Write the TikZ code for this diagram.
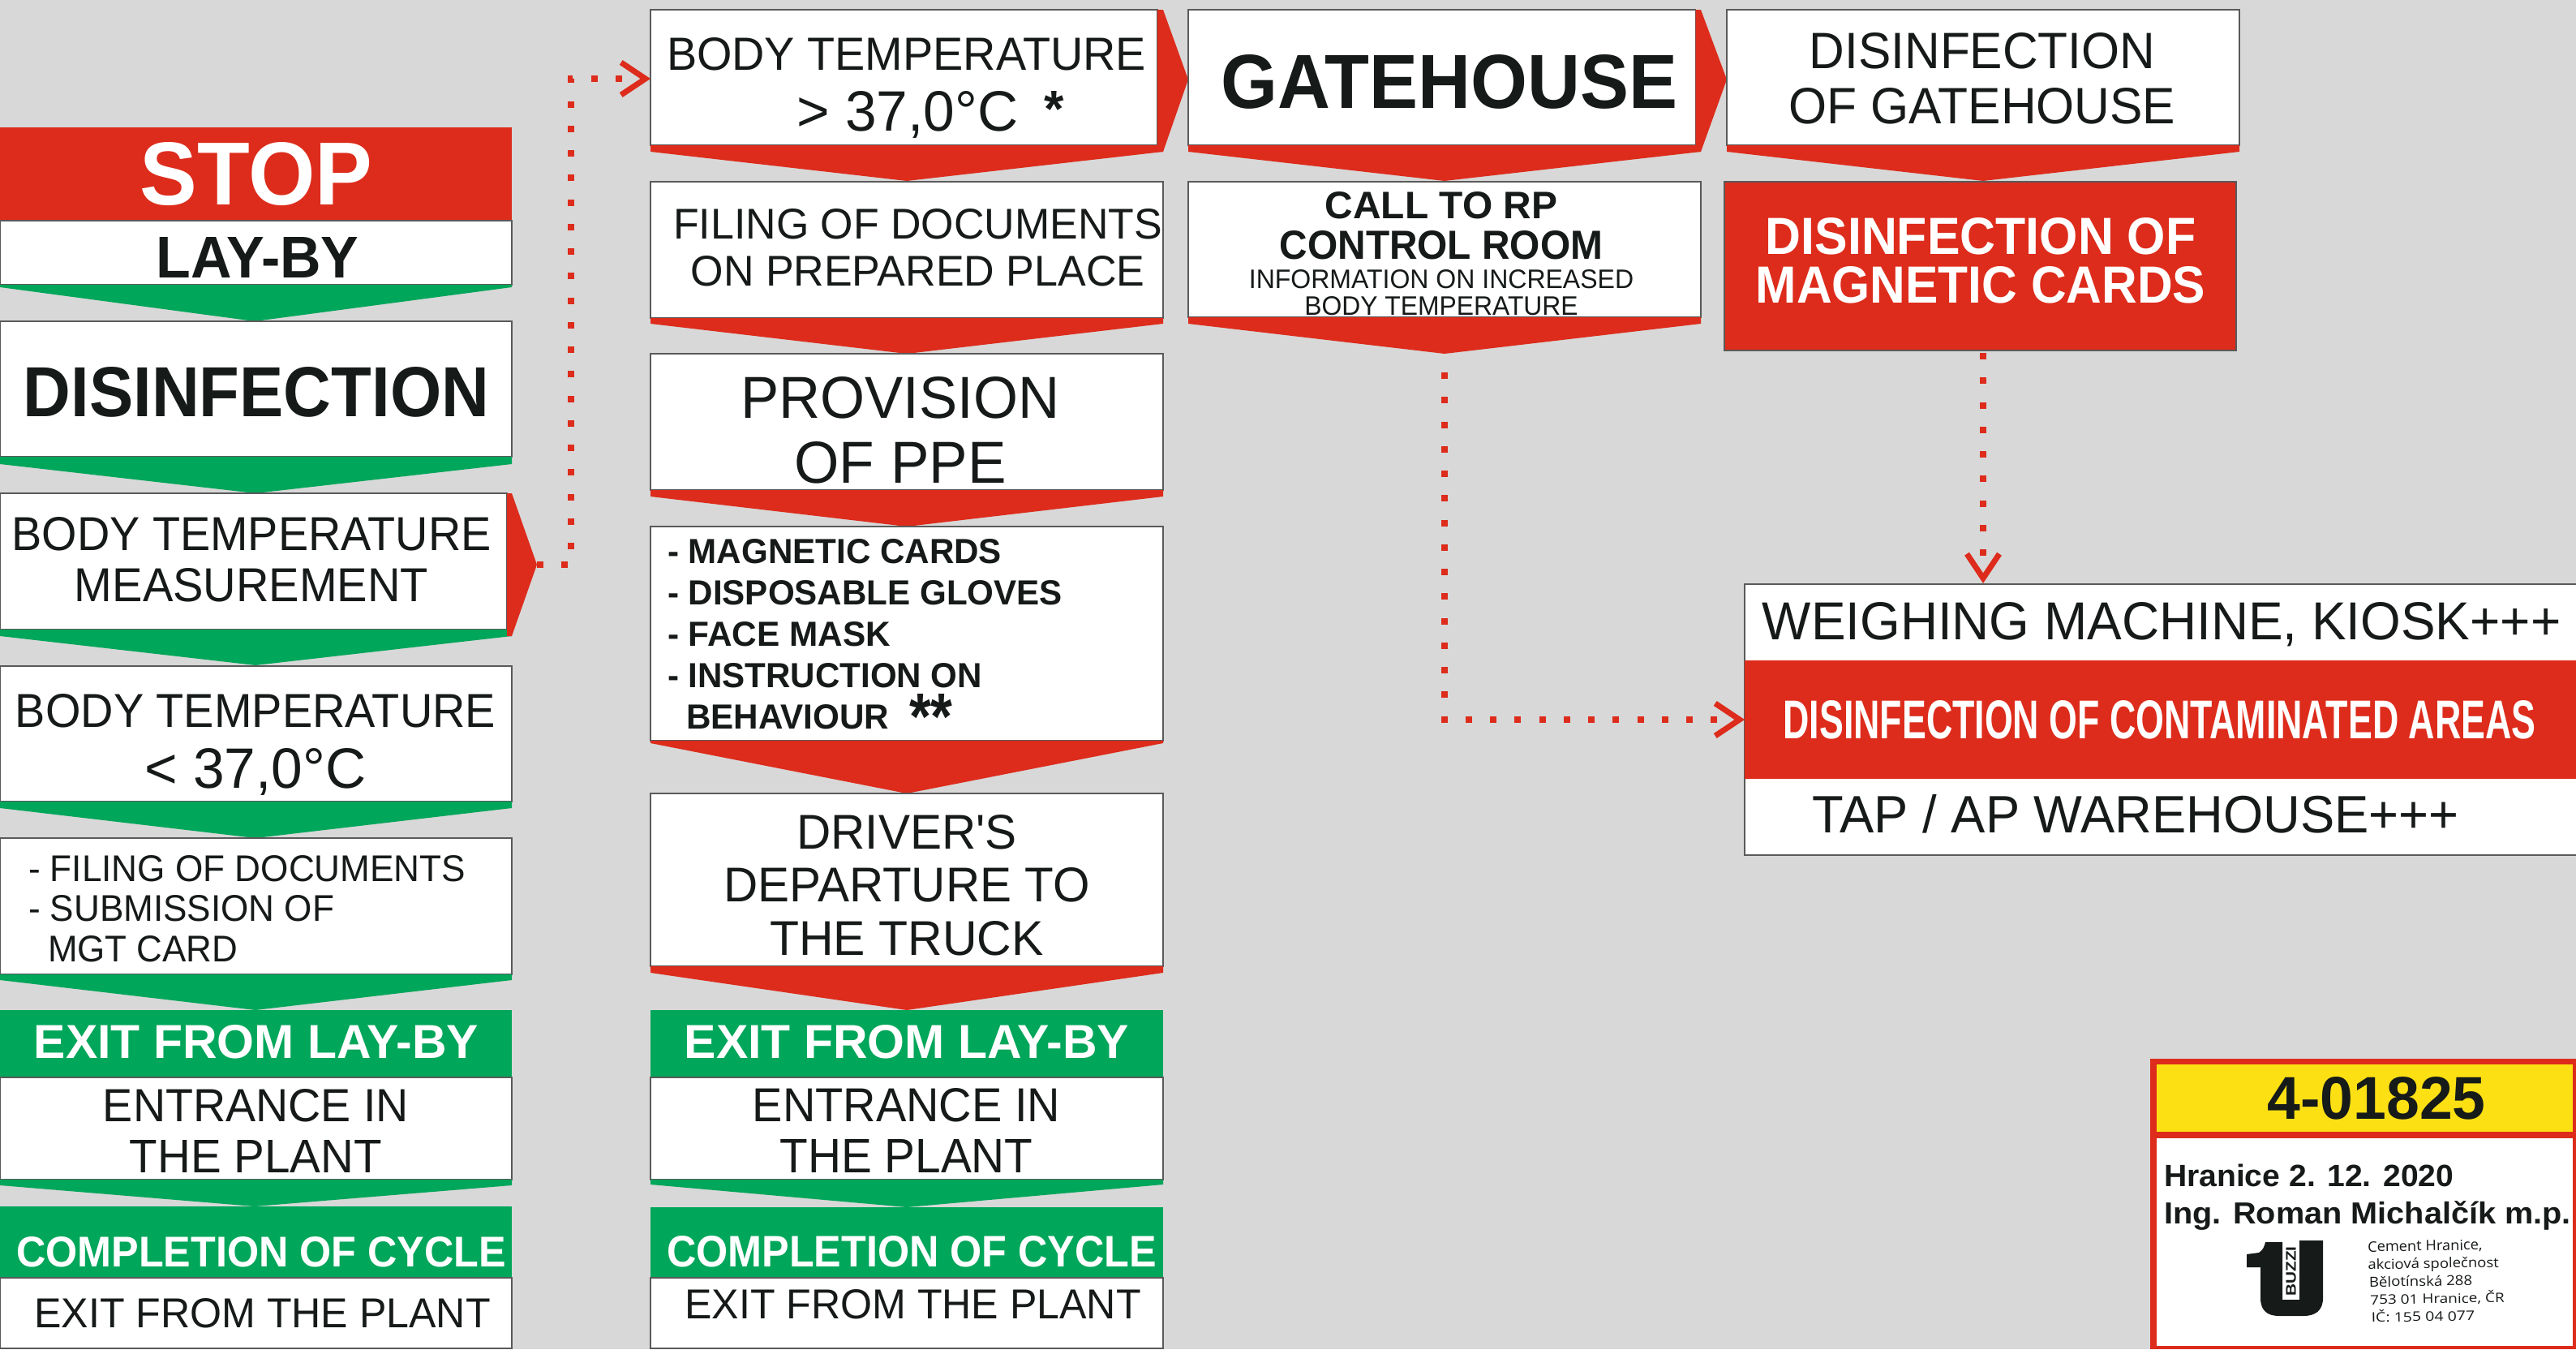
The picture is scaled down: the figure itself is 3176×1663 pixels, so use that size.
\documentclass[tikz,border=0pt]{standalone}
\usepackage{graphicx}
\usepackage{fontspec}
\setmainfont{Liberation Sans}
\newfontfamily\smallf{Open Sans}
\newfontfamily\plainf{Liberation Sans}
\usetikzlibrary{arrows.meta}
\definecolor{ink}{HTML}{161A18}
\definecolor{redc}{HTML}{DD2C1C}
\definecolor{greenc}{HTML}{00A65A}
\definecolor{yelc}{HTML}{FDE014}
\definecolor{bgc}{HTML}{D8D8D8}
\definecolor{edgec}{HTML}{5A5A5A}
% one line of text: visible width, height (px), text; side bearings are added to the width
\newcommand{\tl}[3]{\resizebox{\dimexpr#1pt+#2pt/10\relax}{#2pt}{\raisebox{0pt}[\height][0pt]{#3}}}
\newcommand{\tb}[3]{\tl{#1}{#2}{\bfseries #3}}
\tikzset{
  wbox/.style={draw=edgec,line width=1.5pt,fill=white,inner sep=0pt,outer sep=0pt,anchor=north west},
  bandbox/.style={draw=none,fill=#1,inner sep=0pt,outer sep=0pt,anchor=north west},
  txt/.style={inner sep=0pt,outer sep=0pt,anchor=north,align=center,text=ink,font=\fontsize{60}{#1pt}\selectfont},
  txtl/.style={inner sep=0pt,outer sep=0pt,anchor=north west,align=left,text=ink,font=\fontsize{60}{#1pt}\selectfont},
  conn/.style={draw=redc,line width=8pt,dash pattern=on 8pt off 22.25pt,
    -{Straight Barb[length=30pt,width=40pt,line width=7pt]}},
}
% name, l, t, r, b
\newcommand{\wb}[5]{\node[wbox,minimum width={(#4-#2)*1pt},minimum height={(#5-#3)*1pt}] (#1) at (#2,#3) {};}
% name, colour, l, t, r, b
\newcommand{\cb}[6]{\node[bandbox=#2,minimum width={(#5-#3)*1pt},minimum height={(#6-#4)*1pt}] (#1) at (#3,#4) {};}
% name, colour, l, r, band top, corner, tip x, tip y
\newcommand{\dn}[8]{\fill[#2] (#3,#5) -- (#4,#5) -- (#4,#6) -- (#7,#8) -- (#3,#6) -- cycle; \coordinate (#1) at (#7,#8);}
% name, x0, x1, top, tip x, tip y, bottom
\newcommand{\sd}[7]{\fill[redc] (#2,#4) -- (#3,#4) -- (#5,#6) -- (#3,#7) -- (#2,#7) -- cycle; \coordinate (#1) at (#5,#6);}
\begin{document}
\begin{tikzpicture}[x=1pt,y=-1pt]
\useasboundingbox (0,0) rectangle (3176,1663);
\fill[bgc] (0,0) rectangle (3176,1663);

%% column 1
\cb{stop}{redc}{0}{157}{631}{272}
\wb{lay}{0}{272}{631}{351}
\dn{layT}{greenc}{0}{631}{351}{354}{314}{396}
\node[txt=60,text=white] (stopT) at (316,175) {\tb{279}{77}{STOP}};
\node[txt=60] (layTx) at (317.5,292) {\tb{245}{50}{LAY-BY}};

\wb{dis}{0}{396}{631}{563}
\dn{disT}{greenc}{0}{631}{563}{572}{315}{608}
\node[txt=60] (disTx) at (316,452) {\tb{568}{61}{DISINFECTION}};

\wb{bm}{0}{608}{625}{776}
\dn{bmD}{greenc}{0}{631}{776}{784}{315}{820}
\sd{bmT}{625}{631}{608}{662}{696}{784}
\node[txt=63] (bmTx) at (310,637) {\tl{587}{41}{BODY TEMPERATURE}\\\tl{432}{41}{MEASUREMENT}};

\wb{lt}{0}{821}{631}{988}
\dn{ltT}{greenc}{0}{631}{988}{996}{315}{1033}
\node[txt=75] (ltTx) at (315,855) {\tl{588}{41}{BODY TEMPERATURE}\\\tl{268}{49}{< 37,0°C}};

\wb{doc}{0}{1033}{631}{1201}
\dn{docT}{greenc}{0}{631}{1201}{1208}{315}{1245}
\node[txtl=49.5] (docTx) at (35,1054) {\tl{536}{32}{- FILING OF DOCUMENTS}\\\tl{374}{32}{- SUBMISSION OF}\\\hspace*{24pt}\tl{231}{32}{MGT CARD}};

\cb{ex}{greenc}{0}{1245}{631}{1328}
\wb{ent}{0}{1328}{631}{1454}
\dn{entT}{greenc}{0}{631}{1454}{1461}{314}{1487}
\node[txt=60,text=white] (exTx) at (316,1263) {\tb{544}{41}{EXIT FROM LAY-BY}};
\node[txt=63] (entTx) at (315.5,1342) {\tl{373}{40}{ENTRANCE IN}\\\tl{307}{40}{THE PLANT}};

\cb{co}{greenc}{0}{1487}{631}{1575}
\wb{xp}{0}{1575}{631}{1662}
\node[txt=60,text=white] (coTx) at (322,1524) {\tb{600}{37}{COMPLETION OF CYCLE}};
\node[txt=60] (xpTx) at (323.5,1600) {\tl{559}{36}{EXIT FROM THE PLANT}};

%% column 2
\wb{hi}{802}{12}{1427}{179}
\dn{hiD}{redc}{802}{1434}{179}{187}{1118}{223}
\sd{hiT}{1427}{1434}{12}{1465}{98}{187}
\node[txt=75] (hiTx) at (1117.5,46) {\tl{587}{40}{BODY TEMPERATURE}\\\hspace*{59pt}\tl{268}{49}{> 37,0°C}\hspace{32pt}\smash{\raisebox{5pt}{\tb{20}{44}{*}}}};

\wb{fi}{802}{224}{1434}{392}
\dn{fiT}{redc}{802}{1434}{392}{399}{1118}{436}
\node[txt=58] (fiTx) at (1131.5,257) {\tl{599}{37}{FILING OF DOCUMENTS}\\\tl{556}{37}{ON PREPARED PLACE}};

\wb{pp}{802}{436}{1434}{604}
\dn{ppT}{redc}{802}{1434}{604}{612}{1118}{649}
\node[txt=80] (ppTx) at (1110,464) {\tl{388}{51}{PROVISION}\\\tl{256}{51}{OF PPE}};

\wb{li}{802}{649}{1434}{913}
\dn{liT}{redc}{802}{1434}{913}{916}{1118}{978}
\node[txtl=51] (liTx) at (823,664) {\tb{409}{30}{- MAGNETIC CARDS}\\\tb{484}{30}{- DISPOSABLE GLOVES}\\\tb{272}{30}{- FACE MASK}\\\tb{385}{30}{- INSTRUCTION ON}\\\hspace*{23pt}\tb{247}{30}{BEHAVIOUR}\hspace{25pt}\smash{\raisebox{-13pt}{\tb{48}{56}{**}}}};

\wb{dr}{802}{978}{1434}{1191}
\dn{drT}{redc}{802}{1434}{1191}{1199}{1118}{1245}
\node[txt=65.5] (drTx) at (1118,1004) {\tl{267}{42}{\plainf DRIVER'S}\\\tl{447}{42}{DEPARTURE TO}\\\tl{333}{42}{THE TRUCK}};

\cb{ex2}{greenc}{802}{1245}{1434}{1328}
\wb{ent2}{802}{1328}{1434}{1454}
\dn{ent2T}{greenc}{802}{1434}{1454}{1460}{1118}{1488}
\node[txt=60,text=white] (ex2Tx) at (1118,1263) {\tb{544}{41}{EXIT FROM LAY-BY}};
\node[txt=63] (ent2Tx) at (1117.5,1341) {\tl{375}{41}{ENTRANCE IN}\\\tl{308}{41}{THE PLANT}};

\cb{co2}{greenc}{802}{1488}{1434}{1575}
\wb{xp2}{802}{1575}{1434}{1662}
\node[txt=60,text=white] (co2Tx) at (1124,1523) {\tb{600}{38}{COMPLETION OF CYCLE}};
\node[txt=60] (xp2Tx) at (1125.5,1589) {\tl{559}{36}{EXIT FROM THE PLANT}};

%% column 3
\wb{gh}{1465}{12}{2090.5}{179}
\dn{ghD}{redc}{1465}{2097}{179}{187}{1781}{223}
\sd{ghT}{2090.5}{2097}{12}{2129}{98}{187}
\node[txt=60] (ghTx) at (1787,67) {\tb{556}{66}{GATEHOUSE}};

\wb{call}{1465}{224}{2097}{391}
\dn{callT}{redc}{1465}{2097}{391}{399}{1781}{436}
\node[txt=33] (callTx) at (1777,236) {\tb{283}{33}{CALL TO RP}\\[14pt]\tb{395}{35}{CONTROL ROOM}\\[3pt]\tl{472}{23}{INFORMATION ON INCREASED}\\\tl{335}{23}{BODY TEMPERATURE}};

%% column 4
\wb{dg}{2129}{12}{2761}{179}
\dn{dgT}{redc}{2129}{2761}{179}{187}{2445}{223}
\node[txt=68] (dgTx) at (2444,40) {\tl{422}{44}{DISINFECTION}\\\tl{472}{44}{OF GATEHOUSE}};

\node[bandbox=redc,draw=edgec,line width=1.5pt,minimum width=631pt,minimum height=208pt] (rc) at (2126,224) {};
\node[txt=60,text=white] (rcTx) at (2442,268) {\tb{526}{45}{DISINFECTION OF}\\\tb{550}{45}{MAGNETIC CARDS}};
\coordinate (rcOut) at (2445,435);

%% areas
\wb{we}{2151}{720}{3180}{1054}
\cb{ar}{redc}{2151}{814}{3176}{960}
\node[txt=60] (weTx) at (2665,742) {\tl{980}{46}{WEIGHING MACHINE, KIOSK+++}};
\node[txt=60,text=white] (arTx) at (2662.5,863) {\tb{923}{47}{DISINFECTION OF CONTAMINATED AREAS}};
\node[txt=60] (taTx) at (2633,979) {\tl{792}{47}{TAP / AP WAREHOUSE+++}};

%% connectors
\coordinate (cA) at (703.5,696);
\coordinate (cB) at (703.5,97);
\coordinate (hiIn) at (802,97);
\draw[conn] (bmT) -- (cA) -- (cB) -- (hiIn);
\coordinate (cC) at (1781,887);
\coordinate (arIn) at (2151,887);
\draw[conn,shorten <=23pt] (callT) -- (cC) -- (arIn);
\coordinate (weIn) at (2445,719);
\draw[conn] (rcOut) -- (weIn);

%% stamp
\cb{st}{redc}{2651}{1305}{3176}{1663}
\cb{sty}{yelc}{2659}{1312}{3172}{1395}
\cb{stw}{white}{2659}{1403}{3172}{1659}
\node[txt=60] (noTx) at (2930,1327) {\tb{264}{52}{4-01825}};
\node[txtl=46] (sigTx) at (2668,1435) {\tb{354.5}{27.5}{Hranice 2. 12. 2020}\\\tb{499}{28}{Ing. Roman Michalčík m.p.}};
\fill[ink,even odd rule] (2793,1531) -- (2814,1531) -- (2814,1602) -- (2835,1602) -- (2835,1529) -- (2864,1529) -- (2864,1600)
  .. controls (2864,1615) and (2855,1622) .. (2840,1622) -- (2810,1622)
  .. controls (2795,1622) and (2787,1615) .. (2787,1600) -- (2787,1562) -- (2770,1562) -- (2770,1546) -- (2785,1544)
  .. controls (2790,1541) and (2792,1536) .. (2793,1531) -- cycle;
\node[inner sep=0pt,rotate=90,text=ink,font=\fontsize{60}{60pt}\selectfont] (bz) at (2824.5,1567) {\tb{60}{12}{BUZZI}};
\node[txtl=21.7,rotate=1,anchor=north west] (adTx) at (2919,1530) {\tl{140}{13}{\smallf Cement Hranice,}\\\tl{160}{13}{\smallf akciová společnost}\\\hspace*{1pt}\tl{126}{13}{\smallf Bělotínská 288}\\\hspace*{2pt}\tl{164}{15}{\smallf 753 01 Hranice, ČR}\\\hspace*{3pt}\tl{126}{15}{\smallf IČ: 155 04 077}};
\end{tikzpicture}
\end{document}
